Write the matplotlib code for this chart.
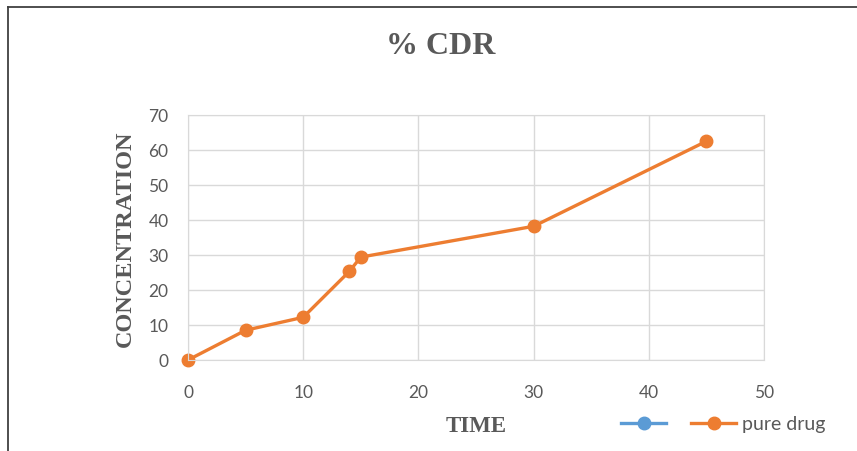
import matplotlib.pyplot as plt
from matplotlib.lines import Line2D

# data
time = [0, 5, 10, 14, 15, 30, 45]
pure_drug = [0, 8.5, 12.2, 25.3, 29.4, 38.2, 62.5]
x_ticks = [0, 10, 20, 30, 40, 50]
y_ticks = [0, 10, 20, 30, 40, 50, 60, 70]

orange = '#ED7D31'
blue = '#5B9BD5'
grey_txt = '#595959'

fig = plt.figure(figsize=(8.57, 4.52), dpi=100)
ax = fig.add_axes([188 / 857, 1 - 361 / 452, 576 / 857, 245 / 452])

ax.plot(time, pure_drug, color=orange, lw=2.4, marker='o', ms=9, clip_on=False)
ax.set_xlim(0, 50)
ax.set_ylim(0, 70)
ax.set_xticks(x_ticks)
ax.set_yticks(y_ticks)
ax.grid(True, color='#d9d9d9', lw=1)
ax.set_axisbelow(True)
for s in ax.spines.values():
    s.set_color('#d9d9d9')
ax.tick_params(length=0, labelsize=12.5, labelcolor=grey_txt)
ax.tick_params(axis='y', pad=14)
ax.tick_params(axis='x', pad=17)
for lab in ax.get_xticklabels() + ax.get_yticklabels():
    lab.set_family('Lato')

ax.set_xlabel('TIME', family='Liberation Serif', fontsize=16.5, weight='bold',
              color=grey_txt, labelpad=11)
ax.set_ylabel('CONCENTRATION', family='Liberation Serif', fontsize=17.5,
              weight='bold', color=grey_txt, labelpad=9)
fig.text(0.514, 1 - 47 / 452, '% CDR', family='Liberation Serif', fontsize=23,
         weight='bold', color=grey_txt, ha='center', va='center')

# legend: first series has no data and no name
h_blue = Line2D([], [], color=blue, lw=2.4, marker='o', ms=9)
h_orange = Line2D([], [], color=orange, lw=2.4, marker='o', ms=9)
leg = fig.legend([h_blue, h_orange], ['', 'pure drug'], loc='center',
                 bbox_to_anchor=(0.844, 0.06), ncol=2, frameon=False,
                 handlelength=2.3, columnspacing=1.0, handletextpad=0.3,
                 prop={'family': 'Lato', 'size': 14})
for t in leg.get_texts():
    t.set_color(grey_txt)

# chart frame (only top and left visible)
fig.add_artist(Line2D([8 / 857, 8 / 857], [0, 1 - 8 / 452], color='#404040', lw=1.3))
fig.add_artist(Line2D([8 / 857, 1], [1 - 8 / 452, 1 - 8 / 452], color='#404040', lw=1.3))

fig.savefig('out.png', dpi=100)
